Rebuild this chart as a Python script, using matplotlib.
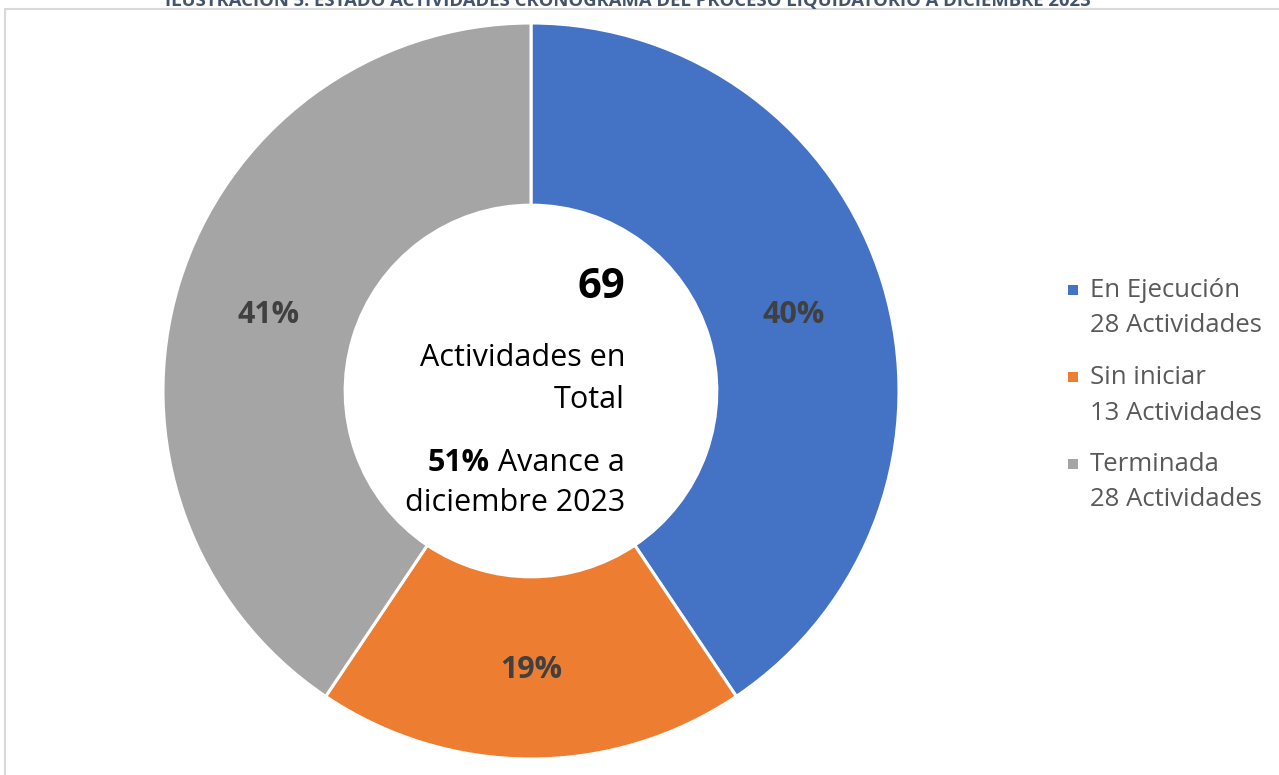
import matplotlib
matplotlib.use("Agg")
import matplotlib.pyplot as plt
from matplotlib.patches import Rectangle
import numpy as np

plt.rcParams['font.family'] = ['Open Sans', 'DejaVu Sans']

categories = ["En Ejecución", "Sin iniciar", "Terminada"]
counts = [28, 13, 28]
pct_labels = ["40%", "19%", "41%"]
colors = ["#4472C4", "#ED7D31", "#A5A5A5"]
total_label = "69"
avance_pct = "51%"
title = "ILUSTRACIÓN 5. ESTADO ACTIVIDADES CRONOGRAMA DEL PROCESO LIQUIDATORIO A DICIEMBRE 2023"

W, H = 1279, 775
fig = plt.figure(figsize=(W / 100, H / 100), dpi=100)

# border
fig.patches.append(Rectangle((5 / W, -0.05), 1.1, 1 - 9 / H + 0.05, transform=fig.transFigure,
                             fill=False, edgecolor="#D9D9D9", linewidth=1.5, figure=fig))

fig.text(628 / W, 1 - 6 / H, title, ha="center", va="baseline", fontsize=13.3,
         fontweight="bold", color="#44546A")

cx, cy, R = 531, 391, 368
ax = fig.add_axes([(cx - R) / W, (H - cy - R) / H, 2 * R / W, 2 * R / H])

wedges, _ = ax.pie(counts, colors=colors, startangle=90, counterclock=False, radius=1,
                   wedgeprops=dict(width=0.495, edgecolor="white", linewidth=2.2))
ax.set_xlim(-1, 1)
ax.set_ylim(-1, 1)
ax.axis("off")
for w, lab in zip(wedges, pct_labels):
    ang = np.deg2rad((w.theta1 + w.theta2) / 2)
    r = 0.745
    ax.text(r * np.cos(ang), r * np.sin(ang) - 0.012, lab, ha="center", va="center",
            fontsize=22, fontweight="bold", color="#404040")

# center text (right aligned)
rx = 625 / W
fs = 22
fig.text(rx, 1 - 298 / H, total_label, ha="right", va="baseline", fontsize=30, fontweight="bold", color="black")
fig.text(rx, 1 - 366 / H, "Actividades en", ha="right", va="baseline", fontsize=fs, color="black")
fig.text(rx, 1 - 408 / H, "Total", ha="right", va="baseline", fontsize=fs, color="black")
t_av = fig.text(rx, 1 - 471 / H, " Avance a", ha="right", va="baseline", fontsize=fs, color="black")
fig.text(rx, 1 - 511 / H, "diciembre 2023", ha="right", va="baseline", fontsize=fs, color="black")
fig.canvas.draw()
bb = t_av.get_window_extent(renderer=fig.canvas.get_renderer())
fig.text(bb.x0 / W, 1 - 471 / H, avance_pct, ha="right", va="baseline", fontsize=fs,
         fontweight="bold", color="black")

# legend
ys = [290, 377, 464]
for cat, n, col, y in zip(categories, counts, colors, ys):
    fig.patches.append(Rectangle((1068 / W, 1 - (y + 5) / H), 10 / W, 10 / H,
                                 transform=fig.transFigure, facecolor=col, edgecolor="none", figure=fig))
    fig.text(1090 / W, 1 - y / H, cat, ha="left", va="center", fontsize=18.5, color="#595959")
    fig.text(1090 / W, 1 - (y + 36) / H, f"{n} Actividades", ha="left", va="center",
             fontsize=18.5, color="#595959")

fig.savefig("out.png", dpi=100)
